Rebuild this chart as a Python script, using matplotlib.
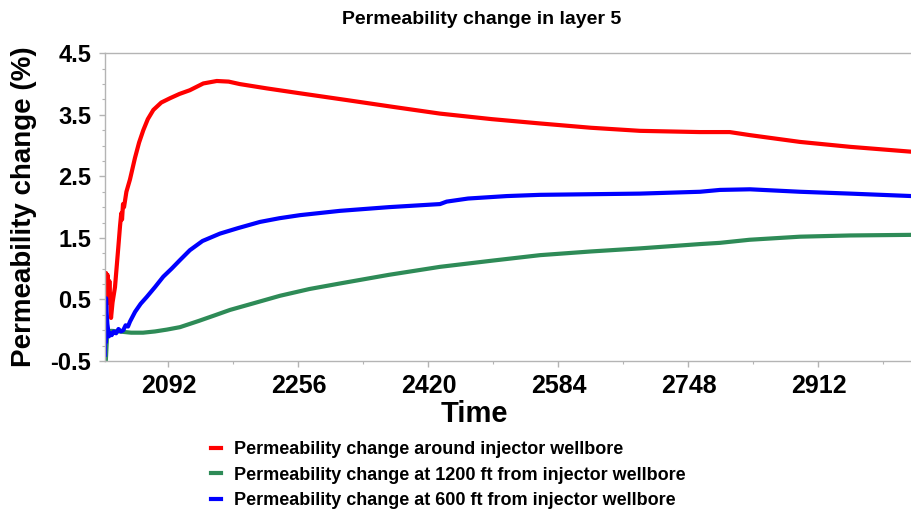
import matplotlib
matplotlib.use("Agg")
import matplotlib.pyplot as plt
import numpy as np
from matplotlib.ticker import FixedLocator

plt.rcParams["font.family"] = ["Liberation Sans", "DejaVu Sans"]
plt.rcParams["font.weight"] = "bold"

# simulation output, permeability change (%) vs time
red_t = [2012.6, 2013.3, 2014.2, 2015.2, 2016.3, 2017.5, 2019.6, 2021.5, 2024.6, 2028.8,
         2031, 2032.5, 2033.5, 2034.7, 2036, 2039, 2043.5, 2049.8, 2055, 2060.3,
         2066, 2073, 2083, 2094, 2106, 2119, 2136, 2153, 2168, 2182,
         2216, 2258, 2317, 2375, 2434.6, 2500, 2560.8, 2625, 2686.9, 2762,
         2800, 2825.7, 2888.7, 2952, 3030]
red_v = [0.35, 0.93, 0.55, 0.9, 0.45, 0.8, 0.2, 0.45, 0.7, 1.35,
         1.7, 1.9, 1.8, 2.05, 2.0, 2.25, 2.45, 2.8, 3.05, 3.25,
         3.43, 3.58, 3.70, 3.77, 3.84, 3.90, 4.01, 4.05, 4.04, 4.00,
         3.93, 3.85, 3.74, 3.63, 3.52, 3.43, 3.36, 3.29, 3.24, 3.22,
         3.22, 3.17, 3.06, 2.98, 2.90]

green_t = [2012.2, 2013, 2013.8, 2014.6, 2015.8, 2020, 2030, 2045, 2060, 2075,
           2090, 2106.6, 2130, 2150, 2169.7, 2200, 2232.8, 2270, 2308.5, 2370,
           2434.6, 2500, 2560.8, 2625, 2686.9, 2762.6, 2787.8, 2825, 2888.7, 2952,
           3030]
green_v = [-0.5, -0.5, -0.3, -0.1, -0.02, -0.01, -0.02, -0.04, -0.04, -0.02,
           0.01, 0.05, 0.15, 0.24, 0.33, 0.44, 0.56, 0.67, 0.76, 0.90,
           1.03, 1.13, 1.22, 1.28, 1.33, 1.40, 1.42, 1.47, 1.52, 1.54,
           1.55]

blue_t = [2012.0, 2012.3, 2012.8, 2013.3, 2014, 2015, 2016, 2017, 2018.5, 2020.5,
          2023, 2026, 2029, 2032, 2035, 2038, 2041, 2043.5, 2050, 2057,
          2064.6, 2075, 2085.5, 2096, 2106.6, 2119, 2135, 2157, 2180, 2207.5,
          2232, 2258, 2308.5, 2370, 2434.6, 2443, 2470, 2518.8, 2560.8, 2686.9,
          2762.6, 2787.8, 2825.7, 2888.7, 2952, 3030]
blue_v = [-0.4, 0.5, -0.2, 0.52, 0.3, 0.1, 0.0, -0.1, -0.05, -0.08,
          -0.02, -0.05, 0.02, -0.02, 0.0, 0.08, 0.06, 0.14, 0.30, 0.43,
          0.54, 0.70, 0.87, 1.00, 1.14, 1.30, 1.45, 1.57, 1.66, 1.76,
          1.82, 1.87, 1.94, 2.00, 2.05, 2.09, 2.14, 2.18, 2.20, 2.22,
          2.25, 2.28, 2.29, 2.25, 2.22, 2.18]

series = [
    (red_t, red_v, "#ff0000", "Permeability change around injector wellbore"),
    (green_t, green_v, "#2e8b57", "Permeability change at 1200 ft from injector wellbore"),
    (blue_t, blue_v, "#0000ff", "Permeability change at 600 ft from injector wellbore"),
]

x_major = np.arange(2092, 3030, 164)
x_minor = np.arange(2174, 3030, 164)
y_major = np.arange(-0.5, 4.51, 1.0)
y_minor = np.arange(-0.5, 4.51, 0.25)

fig = plt.figure(figsize=(9.12, 5.11), dpi=100)
ax = fig.add_axes([105 / 912, 1 - 361 / 511, 1 - 105 / 912, (361 - 53.3) / 511])

for t, v, color, label in series:
    ax.plot(t, v, color=color, linewidth=3.0, label=label, solid_joinstyle="round")

ax.set_xlim(2012, 3030)
ax.set_ylim(-0.5, 4.5)

ax.xaxis.set_major_locator(FixedLocator(x_major))
ax.xaxis.set_minor_locator(FixedLocator(x_minor))
ax.yaxis.set_major_locator(FixedLocator(y_major))
ax.yaxis.set_minor_locator(FixedLocator(y_minor))
ax.set_yticklabels([f"{v:.1f}" for v in y_major])

spine_color = "#b4b4b4"
for side in ("left", "bottom", "top"):
    ax.spines[side].set_color(spine_color)
    ax.spines[side].set_linewidth(1.0)
ax.spines["right"].set_visible(False)

ax.tick_params(axis="both", which="major", direction="out", length=4, width=1,
               color=spine_color, labelsize=17)
ax.tick_params(axis="both", which="minor", direction="out", length=2.5, width=0.8,
               color=spine_color)
ax.tick_params(axis="y", which="major", pad=6)
ax.tick_params(axis="x", which="major", pad=5, labelsize=18)

ax.set_xlabel("Time", fontsize=21, fontweight="bold")
ax.xaxis.set_label_coords(0.458, -0.126)
ax.set_ylabel("Permeability change (%)", fontsize=20, fontweight="bold")
ax.yaxis.set_label_coords(-0.084, 0.5)

fig.text(482 / 912, 1 - 20 / 511, "Permeability change in layer 5",
         ha="center", va="center", fontsize=14, fontweight="bold")

fig.legend(loc="upper left", bbox_to_anchor=(202 / 912, 1 - 432 / 511),
           frameon=False, handlelength=0.55, handletextpad=0.75, labelspacing=0.48,
           borderpad=0, prop={"size": 13, "weight": "bold"})

fig.savefig("out.png", dpi=100)
